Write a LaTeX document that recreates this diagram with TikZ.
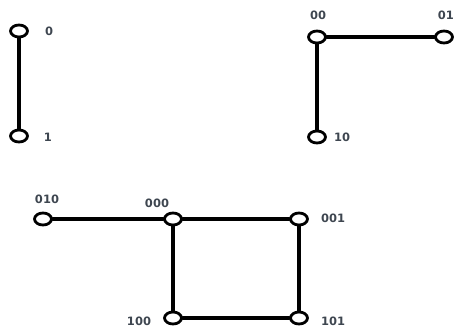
\documentclass[tikz,border=0pt]{standalone}
\usepackage{fontspec}
\setmainfont{DejaVu Sans}
\usetikzlibrary{shapes.geometric}

\definecolor{labelgray}{HTML}{3E4650}

\tikzset{
  vertex/.style={ellipse, draw, fill=white, line width=2.8pt,
    minimum width=17pt, minimum height=12pt, inner sep=0pt},
  edge/.style={line width=3.2pt},
  tag/.style={text=labelgray, font=\fontsize{11.5}{13}\selectfont\bfseries, inner sep=0pt}
}

\begin{document}
\begin{tikzpicture}[x=1pt, y=-1pt, line cap=round, line join=round]

% Fix the page to the reference size
\useasboundingbox (0,0) rectangle (455,329);

% One-bit cube
\node[vertex] (v0) at (19,31) {};
\node[vertex] (v1) at (19,136) {};
\draw[edge] (v0) -- (v1);
\node[tag] (t0) at (49,31) {0};
\node[tag] (t1) at (48,137) {1};

% Two-bit cube
\node[vertex] (v00) at (317,37) {};
\node[vertex] (v01) at (444,37) {};
\node[vertex] (v10) at (317,137) {};
\draw[edge] (v00) -- (v01);
\draw[edge] (v00) -- (v10);
\node[tag] (t00) at (318,15) {00};
\node[tag, anchor=east] (t01) at (454,15) {01};
\node[tag] (t10) at (342,137) {10};

% Three-bit cube
\node[vertex] (v010) at (43,219) {};
\node[vertex] (v000) at (173,219) {};
\node[vertex] (v001) at (299,219) {};
\node[vertex] (v100) at (173,318) {};
\node[vertex] (v101) at (299,318) {};
\draw[edge] (v010) -- (v000);
\draw[edge] (v000) -- (v001);
\draw[edge] (v000) -- (v100);
\draw[edge] (v001) -- (v101);
\draw[edge] (v100) -- (v101);
\node[tag] (t010) at (47,199) {010};
\node[tag] (t000) at (157,203) {000};
\node[tag] (t001) at (333,218) {001};
\node[tag] (t100) at (139,321) {100};
\node[tag] (t101) at (333,321) {101};

\end{tikzpicture}
\end{document}
